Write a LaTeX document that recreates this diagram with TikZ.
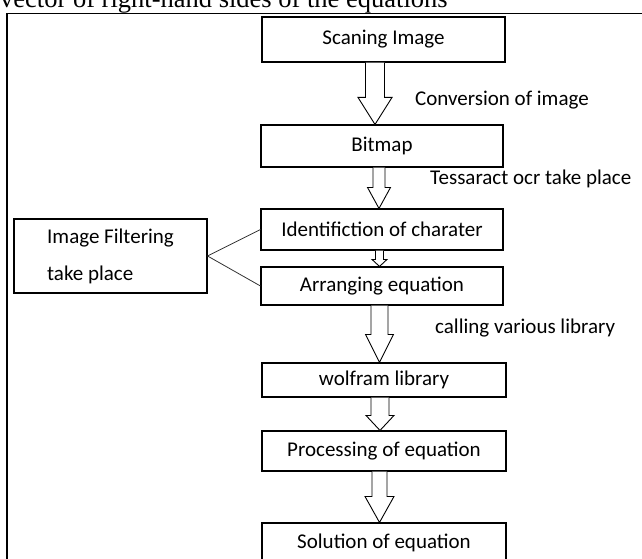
\documentclass[tikz,border=0pt]{standalone}
\usepackage{fontspec}
\setmainfont{Carlito}
\newfontfamily\captfont{Liberation Serif}
\usetikzlibrary{calc,positioning}
\tikzstyle{stepbox}=[draw, line width=1.1pt, minimum height=40pt,
                    minimum width=243pt, inner sep=0pt,
                    font=\fontsize{21}{24}\selectfont]
\tikzstyle{hollow} =[draw, line width=0.9pt, fill=white,
                    line join=miter]
\tikzstyle{link}   =[line width=0.8pt, black!80]
\tikzstyle{note}   =[anchor=west, inner sep=0pt,
                    font=\fontsize{21}{24}\selectfont]

\begin{document}
\begin{tikzpicture}[x=1pt,y=-1pt]
    \useasboundingbox (0,0) rectangle (642,559);
    \clip (0,0) rectangle (642,559);

    % cut caption and frame of the page
    \node[anchor=base west, inner sep=0pt, font=\captfont\fontsize{26.5}{30}\selectfont] (capt) at (0,8) {vector of right-hand sides of the equations};
    \draw[line width=1.3pt] (7,600) -- (7,13.5) -- (700,13.5);

    % steps
    \node[stepbox, minimum height=45pt] (scan) at (383.5,39.5) {Scaning Image};
    \node[stepbox, minimum width=242pt, minimum height=42pt] (bit) at (382,146) {Bitmap};
    \node[stepbox, minimum width=242pt, minimum height=41pt] (ident) at (382,229.5) {Identifiction of charater};
    \node[stepbox, minimum width=242pt, minimum height=38pt] (arr) at (382,286) {Arranging equation};
    \node[stepbox, minimum width=244pt, minimum height=34pt] (wolf) at (384,380) {wolfram library};
    \node[stepbox, minimum width=244pt] (proc) at (384,451) {Processing of equation};
    \node[stepbox, minimum width=244pt] (sol) at (384,543) {Solution of equation};

    \node[draw, line width=1.1pt, minimum width=193pt, minimum height=74pt,
          align=left, font=\fontsize{21}{37}\selectfont] (filt) at (110.5,256) {Image Filtering\\take place};

    % notes beside the arrows
    \node[note] (conv) at (415,100) {Conversion of image};
    \node[note] (tess) at (430,179) {Tessaract ocr take place};
    \node[note] (call) at (435,328) {calling various library};

    \draw[link] (filt.east) -- (ident.west);
    \draw[link] (filt.east) -- (arr.west);

    % hollow arrows: from/to/centre/shaft/head/head length
    \foreach \a/\b/\c/\s/\h/\l in {scan/bit/-8.5/9.5/17/27, bit/ident/-3/6/11.5/21,
        ident/arr/-2.5/4/7.5/7, arr/wolf/-2.5/8.5/14/28,
        wolf/proc/-4/9/14/15, proc/sol/-4.5/7.5/14.5/26}
        \draw[hollow] ($(\a.south)+(\c-\s,0)$) -- ($(\a.south |- \b.north)+(\c-\s,-\l)$)
            -- ($(\a.south |- \b.north)+(\c-\h,-\l)$) -- ($(\a.south |- \b.north)+(\c,0)$)
            -- ($(\a.south |- \b.north)+(\c+\h,-\l)$) -- ($(\a.south |- \b.north)+(\c+\s,-\l)$)
            -- ($(\a.south)+(\c+\s,0)$);

\end{tikzpicture}
\end{document}
